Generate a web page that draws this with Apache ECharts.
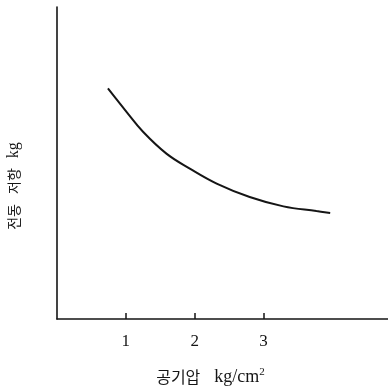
<!DOCTYPE html>
<html>
<head>
<meta charset="utf-8">
<script src="https://cdn.jsdelivr.net/npm/echarts@6/dist/echarts.min.js"></script>
<style>
  html, body { margin: 0; padding: 0; background: #fff; }
  #chart { width: 388px; height: 388px; }
</style>
</head>
<body>
<div id="chart"></div>
<script>
// 공기압 (kg/cm2) 대비 전동 저항 곡선
const pressure = [0.74, 1.01, 1.25, 1.59, 1.93, 2.32, 2.8, 3.29, 3.77, 3.97];
const resistance = [73.9, 66.4, 60.0, 53.0, 48.2, 43.4, 39.1, 36.1, 34.6, 34.0];
const xTicks = [1, 2, 3];

const SERIF = '"Liberation Serif", "DejaVu Serif", serif';
const KO = '"Noto Sans CJK KR", sans-serif';
const INK = '#151515';

const chart = echarts.init(document.getElementById('chart'));

chart.setOption({
  backgroundColor: '#fff',
  animation: false,
  grid: { left: 57, right: 0, top: 7, bottom: 69, outerBoundsMode: 'none' },
  xAxis: {
    type: 'value',
    min: 0,
    max: 4.81,
    name: '{ko|공기압}{gap|}{en|kg/cm}{sup|2}',
    nameLocation: 'middle',
    nameGap: 48,
    nameTextStyle: {
      color: INK,
      padding: [0, 24, 0, 0],
      rich: {
        ko: { fontFamily: KO, fontSize: 16, color: INK },
        gap: { width: 14 },
        en: { fontFamily: SERIF, fontSize: 18, color: INK },
        sup: { fontFamily: SERIF, fontSize: 11, color: INK, verticalAlign: 'top', padding: [0, 0, 9, 0] }
      }
    },
    axisLine: { show: true, lineStyle: { color: INK, width: 1.6 } },
    axisTick: { show: true, inside: true, length: 6, customValues: xTicks, lineStyle: { color: INK, width: 1.5 } },
    axisLabel: { customValues: xTicks, color: INK, fontFamily: SERIF, fontSize: 17, margin: 14 },
    splitLine: { show: false }
  },
  yAxis: {
    type: 'value',
    min: 0,
    max: 100,
    name: '{ko|전동}{gap|}{ko|저항}{gap|}{en|kg}',
    nameLocation: 'middle',
    nameGap: 35,
    nameRotate: 90,
    nameTextStyle: {
      color: INK,
      padding: [0, 46, 0, 0],
      rich: {
        ko: { fontFamily: KO, fontSize: 14, color: INK },
        gap: { width: 10 },
        en: { fontFamily: SERIF, fontSize: 16, color: INK }
      }
    },
    axisLine: { show: true, lineStyle: { color: INK, width: 1.6 } },
    axisTick: { show: false },
    axisLabel: { show: false },
    splitLine: { show: false }
  },
  series: [{
    type: 'line',
    data: pressure.map((p, i) => [p, resistance[i]]),
    smooth: 0.4,
    symbol: 'none',
    lineStyle: { color: INK, width: 2 }
  }]
});
</script>
</body>
</html>
